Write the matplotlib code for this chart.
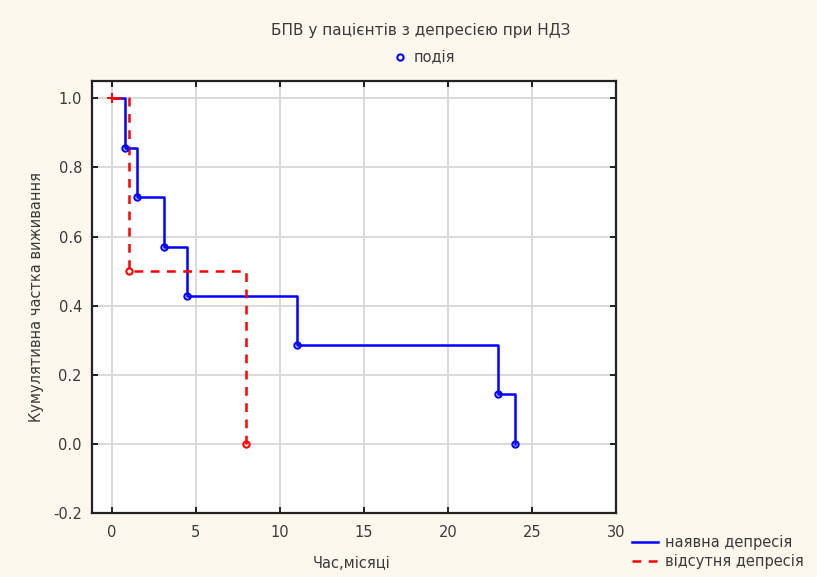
import matplotlib.pyplot as plt
from matplotlib.lines import Line2D

# ----- дані: оцінка Каплана–Мейєра, дві групи -----
T_DEP = [0, 0.8, 1.5, 3.1, 4.5, 11, 23, 24]           # наявна депресія
S_DEP = [1.0, 0.857, 0.714, 0.571, 0.429, 0.286, 0.143, 0.0]
T_NODEP = [0, 1, 8]                                    # відсутня депресія
S_NODEP = [1.0, 0.5, 0.0]

X_TICKS = [0, 5, 10, 15, 20, 25, 30]
Y_TICKS = [-0.2, 0.0, 0.2, 0.4, 0.6, 0.8, 1.0]

BG = "#fdf8ee"
TXT = "#3a3a3a"
GRID = "#d9d9d9"
BLUE = "#0000ff"
RED = "#ff0000"
FS = 10.5

plt.rcParams["font.family"] = ["DejaVu Sans"]

fig = plt.figure(figsize=(8.17, 5.77), dpi=100, facecolor=BG)
ax = fig.add_axes([0.1122, 0.111, 0.6418, 0.7486])
ax.set_facecolor("white")

# ступінчасті криві виживання
ax.step(T_DEP, S_DEP, where="post", color=BLUE, lw=1.8, zorder=3)
ax.step(T_NODEP, S_NODEP, where="post", color=RED, lw=1.8,
        ls=(0, (3.5, 3)), zorder=4)

# події — порожні кружечки
ax.plot(T_DEP[1:], S_DEP[1:], ls="none", marker="o", ms=4.5,
        mfc="none", mec=BLUE, mew=1.5, zorder=5)
ax.plot(T_NODEP[1:], S_NODEP[1:], ls="none", marker="o", ms=4.5,
        mfc="none", mec=RED, mew=1.5, zorder=5)
ax.plot([T_NODEP[0]], [S_NODEP[0]], ls="none", marker="+", ms=7,
        mec=RED, mew=1.4, zorder=6)

ax.set_xlim(-1.2, 30)
ax.set_ylim(-0.2, 1.05)
ax.set_xticks(X_TICKS)
ax.set_yticks(Y_TICKS)
ax.set_yticklabels([f"{v:.1f}" for v in Y_TICKS])
ax.grid(True, color=GRID, lw=1.4)
ax.set_axisbelow(True)
ax.tick_params(direction="in", length=4, width=1.2, top=True, right=True,
               labelsize=FS, labelcolor=TXT)
ax.tick_params(axis="y", pad=7)
ax.tick_params(axis="x", pad=9)
for sp in ax.spines.values():
    sp.set_linewidth(1.6)
    sp.set_color("#222222")

fig.text(0.515, 0.948, "БПВ у пацієнтів з депресією при НДЗ",
         ha="center", va="center", fontsize=FS + 0.5, color=TXT)
fig.text(0.43, 0.024, "Час,місяці", ha="center", va="center",
         fontsize=FS, color=TXT)
fig.text(0.045, 0.485, "Кумулятивна частка виживання", ha="center",
         va="center", rotation=90, fontsize=FS, color=TXT)

# легенда для подій
ev = Line2D([], [], ls="none", marker="o", ms=4.5, mfc="none",
            mec=BLUE, mew=1.5)
fig.legend([ev], ["подія"], loc="center", bbox_to_anchor=(0.519, 0.901),
           frameon=False, fontsize=FS, labelcolor=TXT, handletextpad=0.4,
           handlelength=1.0)

# легенда для груп
h1 = Line2D([], [], color=BLUE, lw=1.8)
h2 = Line2D([], [], color=RED, lw=1.8, ls=(0, (3.5, 3)))
fig.legend([h1, h2], ["наявна депресія", "відсутня депресія"],
           loc="upper left", bbox_to_anchor=(0.773, 0.072),
           frameon=False, fontsize=FS, labelcolor=TXT, handlelength=1.8,
           handletextpad=0.5, labelspacing=0.25, borderpad=0,
           borderaxespad=0)

fig.savefig("out.png", dpi=100, facecolor=BG)
